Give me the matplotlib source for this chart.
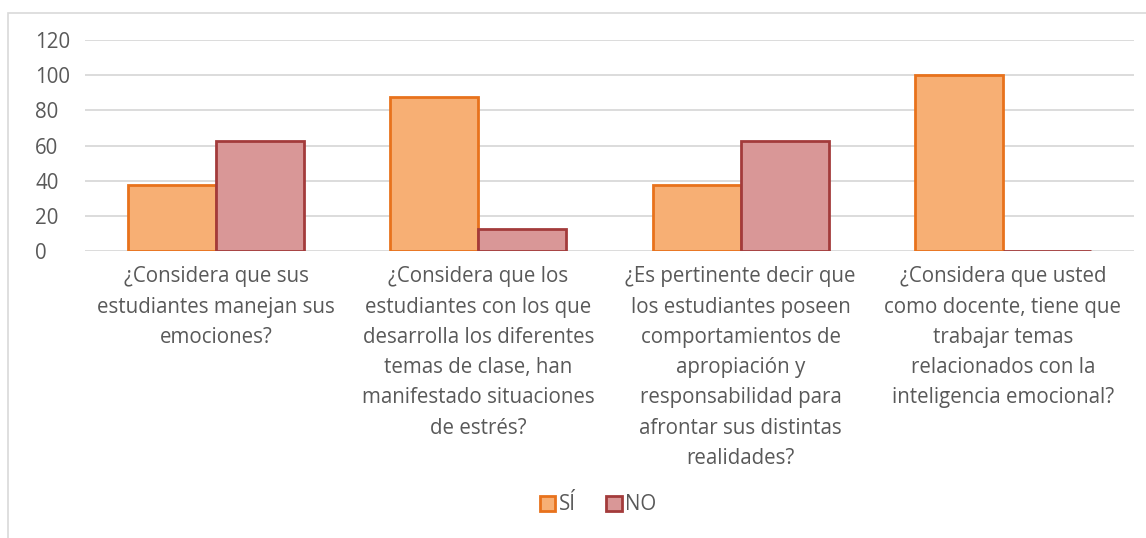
import numpy as np
import matplotlib
matplotlib.use("Agg")
import matplotlib.pyplot as plt
from matplotlib.patches import Rectangle, Patch

plt.rcParams["font.family"] = ["Open Sans", "DejaVu Sans"]

categories = [
    "¿Considera que sus\nestudiantes manejan sus\nemociones?",
    "¿Considera que los\nestudiantes con los que\ndesarrolla los diferentes\ntemas de clase, han\nmanifestado situaciones\nde estrés?",
    "¿Es pertinente decir que\nlos estudiantes poseen\ncomportamientos de\napropiación y\nresponsabilidad para\nafrontar sus distintas\nrealidades?",
    "¿Considera que usted\ncomo docente, tiene que\ntrabajar temas\nrelacionados con la\ninteligencia emocional?",
]
si = [37.5, 87.5, 37.5, 100]
no = [62.5, 12.5, 62.5, 0]

TXT = "#595959"
FS = 14.8
fig = plt.figure(figsize=(11.46, 5.38), dpi=100)
ax = fig.add_axes([85/1146, 1-251/538, (1134-85)/1146, (251-40)/538])

# chart-area border (Excel style)
fig.patches.append(Rectangle((8/1146, -0.1), 1.2, (538-13)/538 + 0.1, transform=fig.transFigure,
                             fill=False, ec="#d9d9d9", lw=1.2))

x = np.arange(len(categories))
w = 0.336
ax.bar(x - w/2, si, w, color="#f7af74", edgecolor="#e8721c", lw=2, label="SÍ", zorder=3)
ax.bar(x + w/2, no, w, color="#d99797", edgecolor="#a33b3b", lw=2, label="NO", zorder=3)

ax.set_xlim(-0.5, len(categories) - 0.5)
ax.set_ylim(0, 120)
ax.set_yticks(range(0, 121, 20))
ax.yaxis.grid(True, color="#d9d9d9", lw=1.3, zorder=0)
for s in ax.spines.values():
    s.set_visible(False)
ax.tick_params(length=0, colors=TXT, labelsize=FS)
ax.set_xticks(x)
ax.set_xticklabels(categories, linespacing=1.58, color=TXT, fontsize=FS)
ax.tick_params(axis="x", pad=11)
for t in ax.get_yticklabels():
    t.set_horizontalalignment("left")
ax.tick_params(axis="y", pad=36)

handles = [Patch(fc="#f7af74", ec="#e8721c", lw=2, label="SÍ"),
           Patch(fc="#d99797", ec="#a33b3b", lw=2, label="NO")]
fig.legend(handles=handles, loc="center", bbox_to_anchor=(598/1146, 1-505/538), ncol=2,
           frameon=False, fontsize=FS, handlelength=0.75, handleheight=0.75,
           handletextpad=0.15, columnspacing=1.5, labelcolor=TXT)

fig.savefig("out.png", dpi=100)
